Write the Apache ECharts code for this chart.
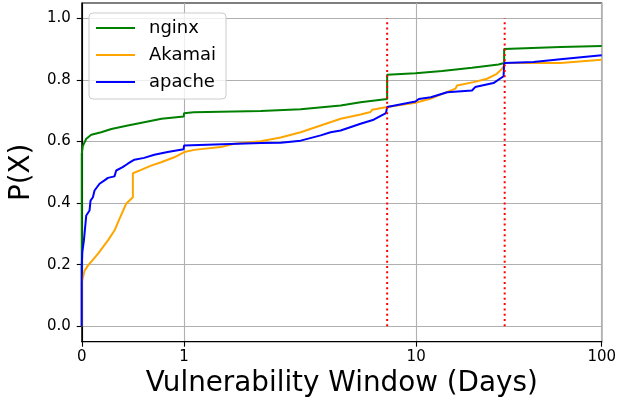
<!DOCTYPE html>
<html>
<head>
<meta charset="utf-8">
<script src="https://cdn.jsdelivr.net/npm/echarts@6/dist/echarts.min.js"></script>
<style>
html,body{margin:0;padding:0;background:#fff;}
#chart{width:627px;height:404px;}
</style>
</head>
<body>
<div id="chart"></div>
<script>
// ---- data ----
const seriesNames = ['nginx', 'Akamai', 'apache'];
const xTickDays = [0, 1, 10, 100];
const xTickLabels = ['0', '1', '10', '100'];
const yTicks = [0, 0.2, 0.4, 0.6, 0.8, 1.0];
const redLineDays = [7.5, 30];

const nginxDays = [0, 0, 0.01, 0.044, 0.093, 0.19, 0.29, 0.45, 0.61, 0.78, 0.998, 1.0, 1.10, 2.14, 3.18, 4.73, 5.76, 7.5, 7.5, 9.93, 13.8, 14.1, 20.0, 27.8, 29.8, 29.8, 59.9, 100];
const nginxP =    [0, 0.56, 0.585, 0.609, 0.622, 0.63, 0.641, 0.652, 0.663, 0.674, 0.681, 0.692, 0.695, 0.699, 0.705, 0.717, 0.728, 0.738, 0.817, 0.822, 0.829, 0.834, 0.840, 0.850, 0.855, 0.901, 0.907, 0.910];

const akamaiDays = [0, 0, 0.028, 0.06, 0.158, 0.256, 0.32, 0.369, 0.434, 0.50, 0.50, 0.58, 0.678, 0.776, 0.905, 1.003, 1.107, 1.44, 1.645, 2.14, 2.61, 3.18, 3.88, 4.73, 5.76, 6.36, 6.46, 7.5, 9.93, 11.9, 16.3, 16.6, 20.4, 24.1, 27.2, 29.0, 29.8, 29.8, 59.9, 100];
const akamaiP =    [0, 0.143, 0.181, 0.197, 0.235, 0.279, 0.311, 0.349, 0.398, 0.419, 0.497, 0.508, 0.522, 0.533, 0.549, 0.566, 0.573, 0.582, 0.593, 0.601, 0.613, 0.63, 0.652, 0.674, 0.688, 0.696, 0.703, 0.712, 0.726, 0.739, 0.772, 0.782, 0.793, 0.804, 0.820, 0.836, 0.847, 0.855, 0.855, 0.866];

const apacheDays = [0, 0, 0.005, 0.021, 0.044, 0.076, 0.086, 0.109, 0.125, 0.174, 0.222, 0.256, 0.32, 0.337, 0.40, 0.45, 0.515, 0.61, 0.71, 0.84, 0.997, 1.0, 2.14, 2.61, 3.18, 3.88, 4.28, 4.73, 5.76, 6.56, 7.41, 7.5, 9.93, 10.33, 12.0, 14.7, 20.0, 20.8, 26.1, 29.6, 29.8, 42.9, 59.9, 100];
const apacheP =    [0, 0.19, 0.24, 0.279, 0.360, 0.376, 0.408, 0.419, 0.441, 0.463, 0.474, 0.482, 0.487, 0.506, 0.517, 0.528, 0.541, 0.547, 0.557, 0.566, 0.575, 0.587, 0.595, 0.596, 0.603, 0.62, 0.63, 0.636, 0.658, 0.671, 0.692, 0.712, 0.730, 0.738, 0.744, 0.760, 0.766, 0.777, 0.790, 0.812, 0.855, 0.858, 0.867, 0.880];

// ---- x scale: linear 0..1, then logarithmic segments ----
const SEG0 = 102.5, SEG1 = 232.7, SEG2 = 186.0;
function fwd(d) {
  if (d <= 1) return d * SEG0;
  if (d <= 10) return SEG0 + Math.log10(d) * SEG1;
  return SEG0 + SEG1 + Math.log10(d / 10) * SEG2;
}
const xTickPos = xTickDays.map(fwd);
function xLabel(v) {
  let best = 0;
  for (let i = 1; i < xTickPos.length; i++) {
    if (Math.abs(xTickPos[i] - v) < Math.abs(xTickPos[best] - v)) best = i;
  }
  return xTickLabels[best];
}
function pairs(days, p) { return days.map((d, i) => [fwd(d), p[i]]); }

const FONT = 'DejaVu Sans';
const chart = echarts.init(document.getElementById('chart'), null, {renderer: 'canvas'});

const lineSeries = [
  {name: 'nginx', color: '#008000', data: pairs(nginxDays, nginxP)},
  {name: 'Akamai', color: '#ffa500', data: pairs(akamaiDays, akamaiP)},
  {name: 'apache', color: '#0000ff', data: pairs(apacheDays, apacheP)}
].map(s => ({
  name: s.name, type: 'line', data: s.data, showSymbol: false, symbol: 'none',
  itemStyle: {color: s.color},
  lineStyle: {color: s.color, width: 2},
  z: 3, animation: false
}));

const redSeries = redLineDays.map((d, i) => ({
  name: 'red' + i, type: 'line', data: [[fwd(d), 0], [fwd(d), 1]], symbol: 'none',
  lineStyle: {color: '#ff0000', width: 2, type: [2, 3.3]},
  z: 4, animation: false, silent: true
}));

chart.setOption({
  animation: false,
  backgroundColor: '#ffffff',
  grid: {left: 80.5, right: 25.3, top: 3, bottom: 62.3, show: true, borderColor: '#000', borderWidth: 1.1, backgroundColor: 'transparent'},
  legend: {
    data: seriesNames,
    orient: 'vertical',
    left: 89, top: 13,
    icon: 'rect', itemWidth: 39, itemHeight: 2, itemGap: 9,
    padding: [6, 10, 8, 7],
    backgroundColor: 'rgba(255,255,255,0.8)',
    borderColor: '#cccccc', borderWidth: 1, borderRadius: 4,
    textStyle: {fontFamily: FONT, fontSize: 18, color: '#000', lineHeight: 18, padding: [0, 0, 0, 9]}
  },
  xAxis: {
    type: 'value', min: 0, max: fwd(100),
    name: 'Vulnerability Window (Days)', nameLocation: 'middle', nameGap: 27,
    nameTextStyle: {fontFamily: FONT, fontSize: 27.8, color: '#000'},
    axisLine: {show: true, onZero: false, lineStyle: {color: '#000', width: 1.1}},
    axisTick: {show: true, length: 5, lineStyle: {color: '#000', width: 1.1}, customValues: xTickPos},
    axisLabel: {fontFamily: FONT, fontSize: 15, color: '#000', margin: 8, customValues: xTickPos, formatter: xLabel},
    splitLine: {show: true, lineStyle: {color: '#b0b0b0', width: 1.1}}
  },
  yAxis: {
    type: 'value', min: -0.05, max: 1.05,
    name: 'P(X)', nameLocation: 'middle', nameGap: 44, nameRotate: 90,
    nameTextStyle: {fontFamily: FONT, fontSize: 27.8, color: '#000'},
    axisLine: {show: true, onZero: false, lineStyle: {color: '#000', width: 1.1}},
    axisTick: {show: true, length: 5, lineStyle: {color: '#000', width: 1.1}, customValues: yTicks},
    axisLabel: {fontFamily: FONT, fontSize: 15, color: '#000', margin: 11, customValues: yTicks, formatter: v => v.toFixed(1)},
    splitLine: {show: true, lineStyle: {color: '#b0b0b0', width: 1.1}}
  },
  series: lineSeries.concat(redSeries)
});
</script>
</body>
</html>
